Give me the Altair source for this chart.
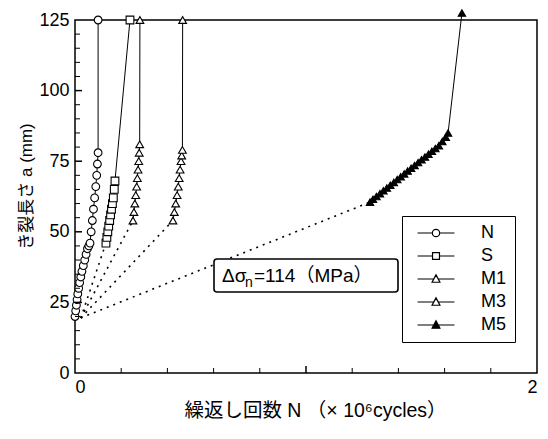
import altair as alt
import pandas as pd

# ---------------- data ----------------
series_names = ["N", "S", "M1", "M3", "M5"]

n_x = [0.000, 0.003, 0.006, 0.009, 0.012, 0.016, 0.020, 0.025, 0.030, 0.036, 0.042, 0.048,
       0.054, 0.060, 0.065, 0.070, 0.075, 0.080, 0.085, 0.090, 0.094, 0.097, 0.100, 0.100]
n_a = [20, 22, 24, 26, 28, 30, 32, 34, 36, 38, 40, 42,
       44, 45, 46, 50, 54, 58, 62, 66, 70, 74, 78, 125]

s_x = [0.134, 0.138, 0.142, 0.146, 0.150, 0.154, 0.158, 0.162, 0.166, 0.170, 0.173, 0.238]
s_a = [46, 48, 50, 52, 54, 56, 58, 60, 62, 65, 68, 125]

m1_x = [0.251, 0.255, 0.259, 0.263, 0.267, 0.270, 0.273, 0.276, 0.278, 0.280, 0.281]
m1_a = [54, 57, 60, 63, 66, 69, 72, 75, 78, 81, 125]

m3_x = [0.424, 0.430, 0.436, 0.442, 0.447, 0.451, 0.455, 0.459, 0.462, 0.465, 0.466]
m3_a = [54, 57, 60, 63, 66, 69, 72, 75, 77, 79, 125]

m5_x = [1.277, 1.290, 1.305, 1.320, 1.335, 1.350, 1.365, 1.380, 1.395, 1.410, 1.425, 1.440,
        1.455, 1.470, 1.485, 1.500, 1.515, 1.530, 1.545, 1.560, 1.575, 1.590, 1.605, 1.615, 1.675]
m5_a = [60.5, 61.5, 62.5, 63.5, 64.5, 65.5, 66.5, 67.5, 68.5, 69.5, 70.5, 71.5,
        72.5, 73.5, 74.5, 75.5, 76.5, 77.5, 78.5, 79.5, 80.5, 82.0, 83.5, 85.0, 127.5]

# dotted links from the initial notch to the first measured point of each series
origin_x = 0.025
origin_a = 19.5

x_minor = [0.2, 0.4, 0.6, 0.8, 1.2, 1.4, 1.6, 1.8]
x_major = [1.0]
y_minor = [5, 10, 15, 20, 30, 35, 40, 45, 55, 60, 65, 70, 80, 85, 90, 95, 105, 110, 115, 120]
y_major = [25, 50, 75, 100]

ann_a = "Δσ"
ann_b = "n"
ann_c = "=114（MPa）"
x_title = "繰返し回数 N （× 10⁶cycles）"
y_title = "き裂長さ a (mm)"

# ---------------- build ----------------
W, H = 462, 353
FONT = "Liberation Sans, Arial, Noto Sans CJK JP"

def frame(x, a, name):
    return pd.DataFrame({"N": x, "a": a, "series": name, "i": range(len(x))})

xs = alt.Scale(domain=[0, 2], nice=False, zero=False)
ys = alt.Scale(domain=[0, 125], nice=False, zero=False)

X = alt.X("N:Q", scale=xs, axis=alt.Axis(
    values=[0, 1, 2], format="d", title=x_title, ticks=False, domain=False, grid=False,
    labelFont=FONT, labelFontSize=18, labelColor="black", labelPadding=5,
    titleFont=FONT, titleFontSize=19.5, titleFontWeight="normal", titleColor="black",
    titlePadding=5, titleX=240))
Y = alt.Y("a:Q", scale=ys, axis=alt.Axis(
    values=[0, 25, 50, 75, 100, 125], title=y_title, ticks=False, domain=False, grid=False,
    labelFont=FONT, labelFontSize=18, labelColor="black", labelPadding=6,
    titleFont=FONT, titleFontSize=17, titleFontWeight="normal", titleColor="black",
    titlePadding=3, titleY=166))

layers = []

# dotted links
dot_rows = []
starts = [(s_x[0], s_a[0]), (m1_x[0], m1_a[0]), (m3_x[0], m3_a[0]), (m5_x[0], m5_a[0])]
for k, (sx, sa) in enumerate(starts):
    dot_rows.append({"N": origin_x, "a": origin_a, "g": k})
    dot_rows.append({"N": sx, "a": sa, "g": k})
dots = alt.Chart(pd.DataFrame(dot_rows)).mark_line(
    color="black", strokeWidth=1.6, strokeDash=[2, 5]).encode(x=X, y=Y, detail="g:N")
layers.append(dots)

specs = [
    (n_x, n_a, "N", "circle", False, 60),
    (s_x, s_a, "S", "square", False, 60),
    (m1_x, m1_a, "M1", "triangle-up", False, 60),
    (m3_x, m3_a, "M3", "triangle-up", False, 60),
    (m5_x, m5_a, "M5", "triangle-up", True, 55),
]
for x, a, name, shp, filled, size in specs:
    d = frame(x, a, name)
    ln = alt.Chart(d).mark_line(color="black", strokeWidth=1).encode(
        x=X, y=Y, order="i:Q")
    pt = alt.Chart(d).mark_point(
        shape=shp, size=size, filled=True,
        fill="black" if filled else "white", stroke="black", strokeWidth=1.1,
        opacity=1).encode(x=X, y=Y)
    layers += [ln, pt]

# minor / major inward ticks
yt = alt.Chart(pd.DataFrame({"a": y_minor})).mark_rule(color="black", strokeWidth=1).encode(
    y=Y, x=alt.value(0), x2=alt.value(5))
ytM = alt.Chart(pd.DataFrame({"a": y_major})).mark_rule(color="black", strokeWidth=1.5).encode(
    y=Y, x=alt.value(0), x2=alt.value(7))
xt = alt.Chart(pd.DataFrame({"N": x_minor})).mark_rule(color="black", strokeWidth=1).encode(
    x=X, y=alt.value(H), y2=alt.value(H - 5))
xtM = alt.Chart(pd.DataFrame({"N": x_major})).mark_rule(color="black", strokeWidth=1.5).encode(
    x=X, y=alt.value(H), y2=alt.value(H - 7))
layers += [yt, ytM, xt, xtM]

# annotation box
one = alt.Data(values=[{}])
box = alt.Chart(one).mark_rect(
    fill="white", stroke="black", strokeWidth=1.6, cornerRadius=3).encode(
    x=alt.value(139), x2=alt.value(323), y=alt.value(239), y2=alt.value(272))
t1 = alt.Chart(one).mark_text(
    text=ann_a, font=FONT, fontSize=19, color="black", align="left",
    baseline="middle").encode(x=alt.value(147), y=alt.value(256))
t2 = alt.Chart(one).mark_text(
    text=ann_b, font=FONT, fontSize=14, color="black", align="left",
    baseline="middle").encode(x=alt.value(170), y=alt.value(263))
t3 = alt.Chart(one).mark_text(
    text=ann_c, font=FONT, fontSize=19, color="black", align="left",
    baseline="middle").encode(x=alt.value(179), y=alt.value(256))
layers += [box, t1, t2, t3]

# legend via invisible layer
leg_paths = [
    "M-4,0H-0.8M0.8,0H4M-0.8,0A0.8,0.8,0,1,1,0.8,0A0.8,0.8,0,1,1,-0.8,0Z",
    "M-4,0H-0.75M0.75,0H4M-0.75,-0.75H0.75V0.75H-0.75Z",
    "M-4,0H-0.45M0.45,0H4M0,-0.9L0.85,0.7H-0.85Z",
    "M-4,0H-0.45M0.45,0H4M0,-0.9L0.85,0.7H-0.85Z",
    "M-4,0H-0.45M0.45,0H4M0,-0.9L0.85,0.7H-0.85Z",
]
leg_fill = ["white", "white", "white", "white", "black"]
leg_stroke = ["black"] * 5
leg = alt.Legend(orient="none", legendX=327, legendY=196, title=None, padding=8,
                 strokeColor="black", fillColor="white", symbolSize=85,
                 symbolOffset=17, labelOffset=36, labelFont=FONT, labelFontSize=18,
                 labelColor="black", rowPadding=5, symbolStrokeWidth=1.2,
                 symbolStrokeColor="black", symbolOpacity=1)
leg_df = pd.DataFrame({"N": [n_x[0], s_x[0], m1_x[0], m3_x[0], m5_x[0]],
                       "a": [n_a[0], s_a[0], m1_a[0], m3_a[0], m5_a[0]],
                       "series": series_names})
legend_layer = alt.Chart(leg_df).mark_point(opacity=0, filled=False, strokeWidth=1.2).encode(
    x=X, y=Y,
    shape=alt.Shape("series:N", scale=alt.Scale(domain=series_names, range=leg_paths), legend=leg),
    fill=alt.Fill("series:N", scale=alt.Scale(domain=series_names, range=leg_fill), legend=leg),
    stroke=alt.Stroke("series:N", scale=alt.Scale(domain=series_names, range=leg_stroke), legend=leg),
)
layers.append(legend_layer)

chart = alt.layer(*layers).properties(
    width=W, height=H,
    autosize=alt.AutoSizeParams(type="none"),
    padding={"left": 75, "top": 20, "right": 11, "bottom": 66},
    background="white",
).configure_view(stroke="black", strokeWidth=1.5)

chart.save("out.html", embed_options={"renderer": "svg", "actions": False})
